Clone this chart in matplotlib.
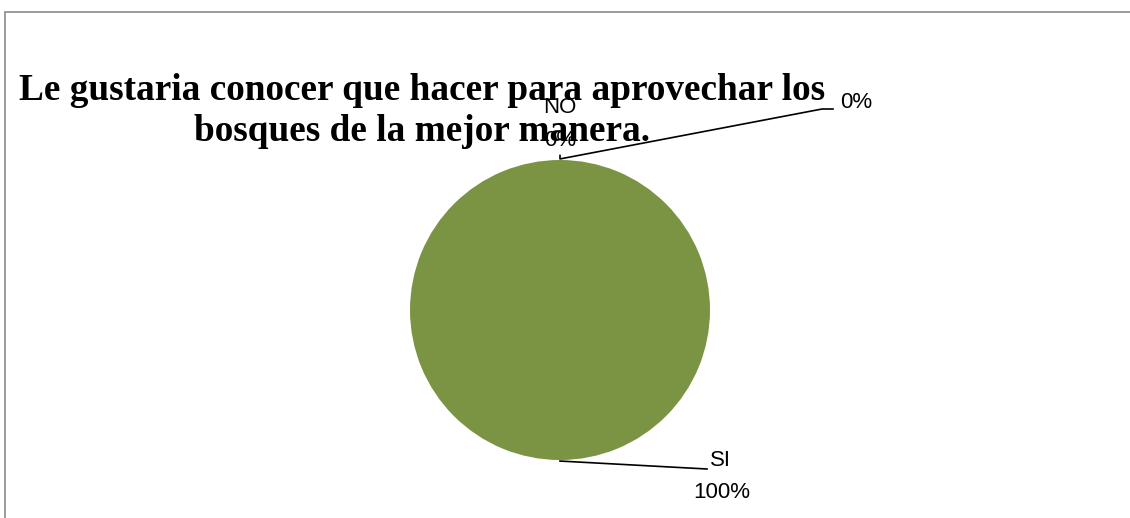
import matplotlib
matplotlib.use("Agg")
import matplotlib.pyplot as plt
from matplotlib.patches import Rectangle

W, H = 1130, 518

title_lines = ["Le gustaria conocer que hacer para aprovechar los",
               "bosques de la mejor manera."]
categories = ["NO", "SI"]
values = [0, 100]
colors = ["#4F81BD", "#7A9443"]

total = sum(values)
pcts = [f"{v / total * 100:.0f}%" for v in values]

fig = plt.figure(figsize=(W / 100, H / 100), dpi=100)
fig.patch.set_facecolor("white")

# chart frame (runs off the right and bottom edge)
fig.add_artist(Rectangle((5 / W, -0.1), 1.2, 1 - 12 / H + 0.1,
                         transform=fig.transFigure, fill=False,
                         edgecolor="#8a8a8a", linewidth=1.2))

# title
for i, line in enumerate(title_lines):
    fig.text(422 / W, 1 - (100 + 41 * i) / H, line, ha="center", va="baseline",
             family="Liberation Serif", weight="bold", fontsize=26.8)

ax = fig.add_axes([410 / W, 58 / H, 300 / W, 300 / H])
ax.pie(values, colors=colors, startangle=90, counterclock=False,
       radius=1, wedgeprops=dict(linewidth=0))
ax.set_xlim(-1, 1)
ax.set_ylim(-1, 1)
ax.axis("off")

lab = dict(family="Liberation Sans", fontsize=16, color="black")

# NO label (sits on the top edge) + leader line to the second 0%
ax.text(0, 1.347, categories[0], ha="center", va="center", **lab)
ax.text(0, 1.133, pcts[0], ha="center", va="center", **lab)
ax.plot([0, 0, 1.747, 1.82], [1.03, 1.007, 1.34, 1.34], color="black",
        linewidth=1.2, clip_on=False)
ax.text(1.867, 1.38, pcts[0], ha="left", va="center", **lab)

# SI label
ax.plot([0, 0.98], [-1.007, -1.06], color="black", linewidth=1.2, clip_on=False)
ax.text(1.073, -1.0, categories[1], ha="center", va="center", **lab)
ax.text(1.08, -1.22, pcts[1], ha="center", va="center", **lab)

fig.savefig("out.png", dpi=100)
